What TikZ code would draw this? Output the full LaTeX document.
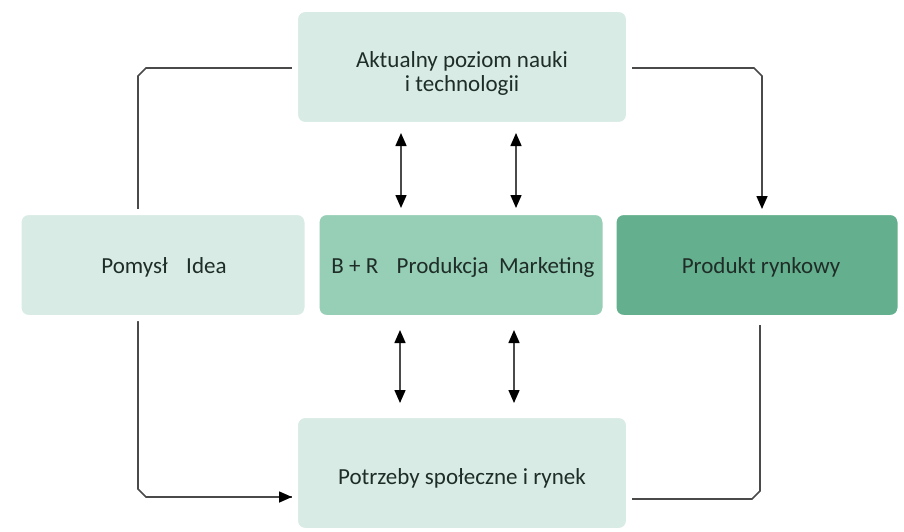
\documentclass[tikz,border=0pt]{standalone}
\usepackage{fontspec}
\setmainfont{Carlito}
\usetikzlibrary{arrows.meta}
\definecolor{boxlight}{HTML}{D8EBE5}
\definecolor{boxmid}{HTML}{96CEB6}
\definecolor{boxdark}{HTML}{64AF8D}
\definecolor{txt}{HTML}{1F2D28}
\definecolor{linec}{HTML}{4A4A4A}
\tikzset{
  box/.style={rounded corners=10pt, inner sep=0pt, draw=white, line width=6pt},
  lbl/.style={text=txt, font=\fontsize{23}{24}\selectfont, align=center},
  conn/.style={draw=linec, line width=1.6pt},
  tipend/.style={-{Triangle[length=13pt,width=11pt,fill=black,color=black]}},
  dbl/.style={draw=linec, line width=1.5pt, {Triangle[length=13pt,width=11pt,fill=black,color=black]}-{Triangle[length=13pt,width=11pt,fill=black,color=black]}},
}
\begin{document}
\begin{tikzpicture}[x=1pt,y=-1pt]
\useasboundingbox (0,0) rectangle (904,532);
% connector coordinates
\coordinate (l1) at (146,68);
\coordinate (l2) at (138,76);
\coordinate (l3) at (138,489);
\coordinate (l4) at (146,497);
\coordinate (r1) at (754,68);
\coordinate (r2) at (762,76);
\coordinate (b1) at (752,499);
\coordinate (b2) at (760,491);
\coordinate (b3) at (760,325);
% connectors behind boxes
\path[conn] (296,68) -- (l1) -- (l2) -- (l3) -- (l4) -- (297,497);
% boxes
\node[box, fill=boxlight, minimum width=334pt, minimum height=116pt] (top) at (462,67) {};
\node[box, fill=boxlight, minimum width=289pt, minimum height=106pt] (idea) at (163,265) {};
\node[box, fill=boxmid, minimum width=289pt, minimum height=106pt] (mid) at (461,265) {};
\node[box, fill=boxdark, minimum width=287pt, minimum height=106pt] (prod) at (757,265) {};
\node[box, fill=boxlight, minimum width=334pt, minimum height=116pt] (bot) at (462,473) {};
% texts
\node[lbl] (ttop) at (462,73) {Aktualny poziom nauki\\i technologii};
\node[lbl] (tidea) at (164,267) {Pomysł\hspace{0.8em}Idea};
\node[lbl] (tmid) at (463,267) {B + R\hspace{0.8em}Produkcja\hspace{0.45em}Marketing};
\node[lbl] (tprod) at (761,267) {Produkt rynkowy};
\node[lbl] (tbot) at (462,478) {Potrzeby społeczne i rynek};
% left connector arrow end
\coordinate (la) at (bot.west |- l4);
\draw[conn, tipend] (l4) -- (la);
% right connectors
\draw[conn, tipend] (top.east |- r1) -- (r1) -- (r2) -- (prod.north -| r2);
\draw[conn] (bot.east |- b1) -- (b1) -- (b2) -- (b3);
% double arrows
\coordinate (u1a) at (401,133); \coordinate (u1b) at (401,208);
\coordinate (u2a) at (516,133); \coordinate (u2b) at (516,208);
\coordinate (d1a) at (400,330); \coordinate (d1b) at (400,403);
\coordinate (d2a) at (514,330); \coordinate (d2b) at (514,403);
\draw[dbl] (u1a) -- (u1b);
\draw[dbl] (u2a) -- (u2b);
\draw[dbl] (d1a) -- (d1b);
\draw[dbl] (d2a) -- (d2b);
\end{tikzpicture}
\end{document}
